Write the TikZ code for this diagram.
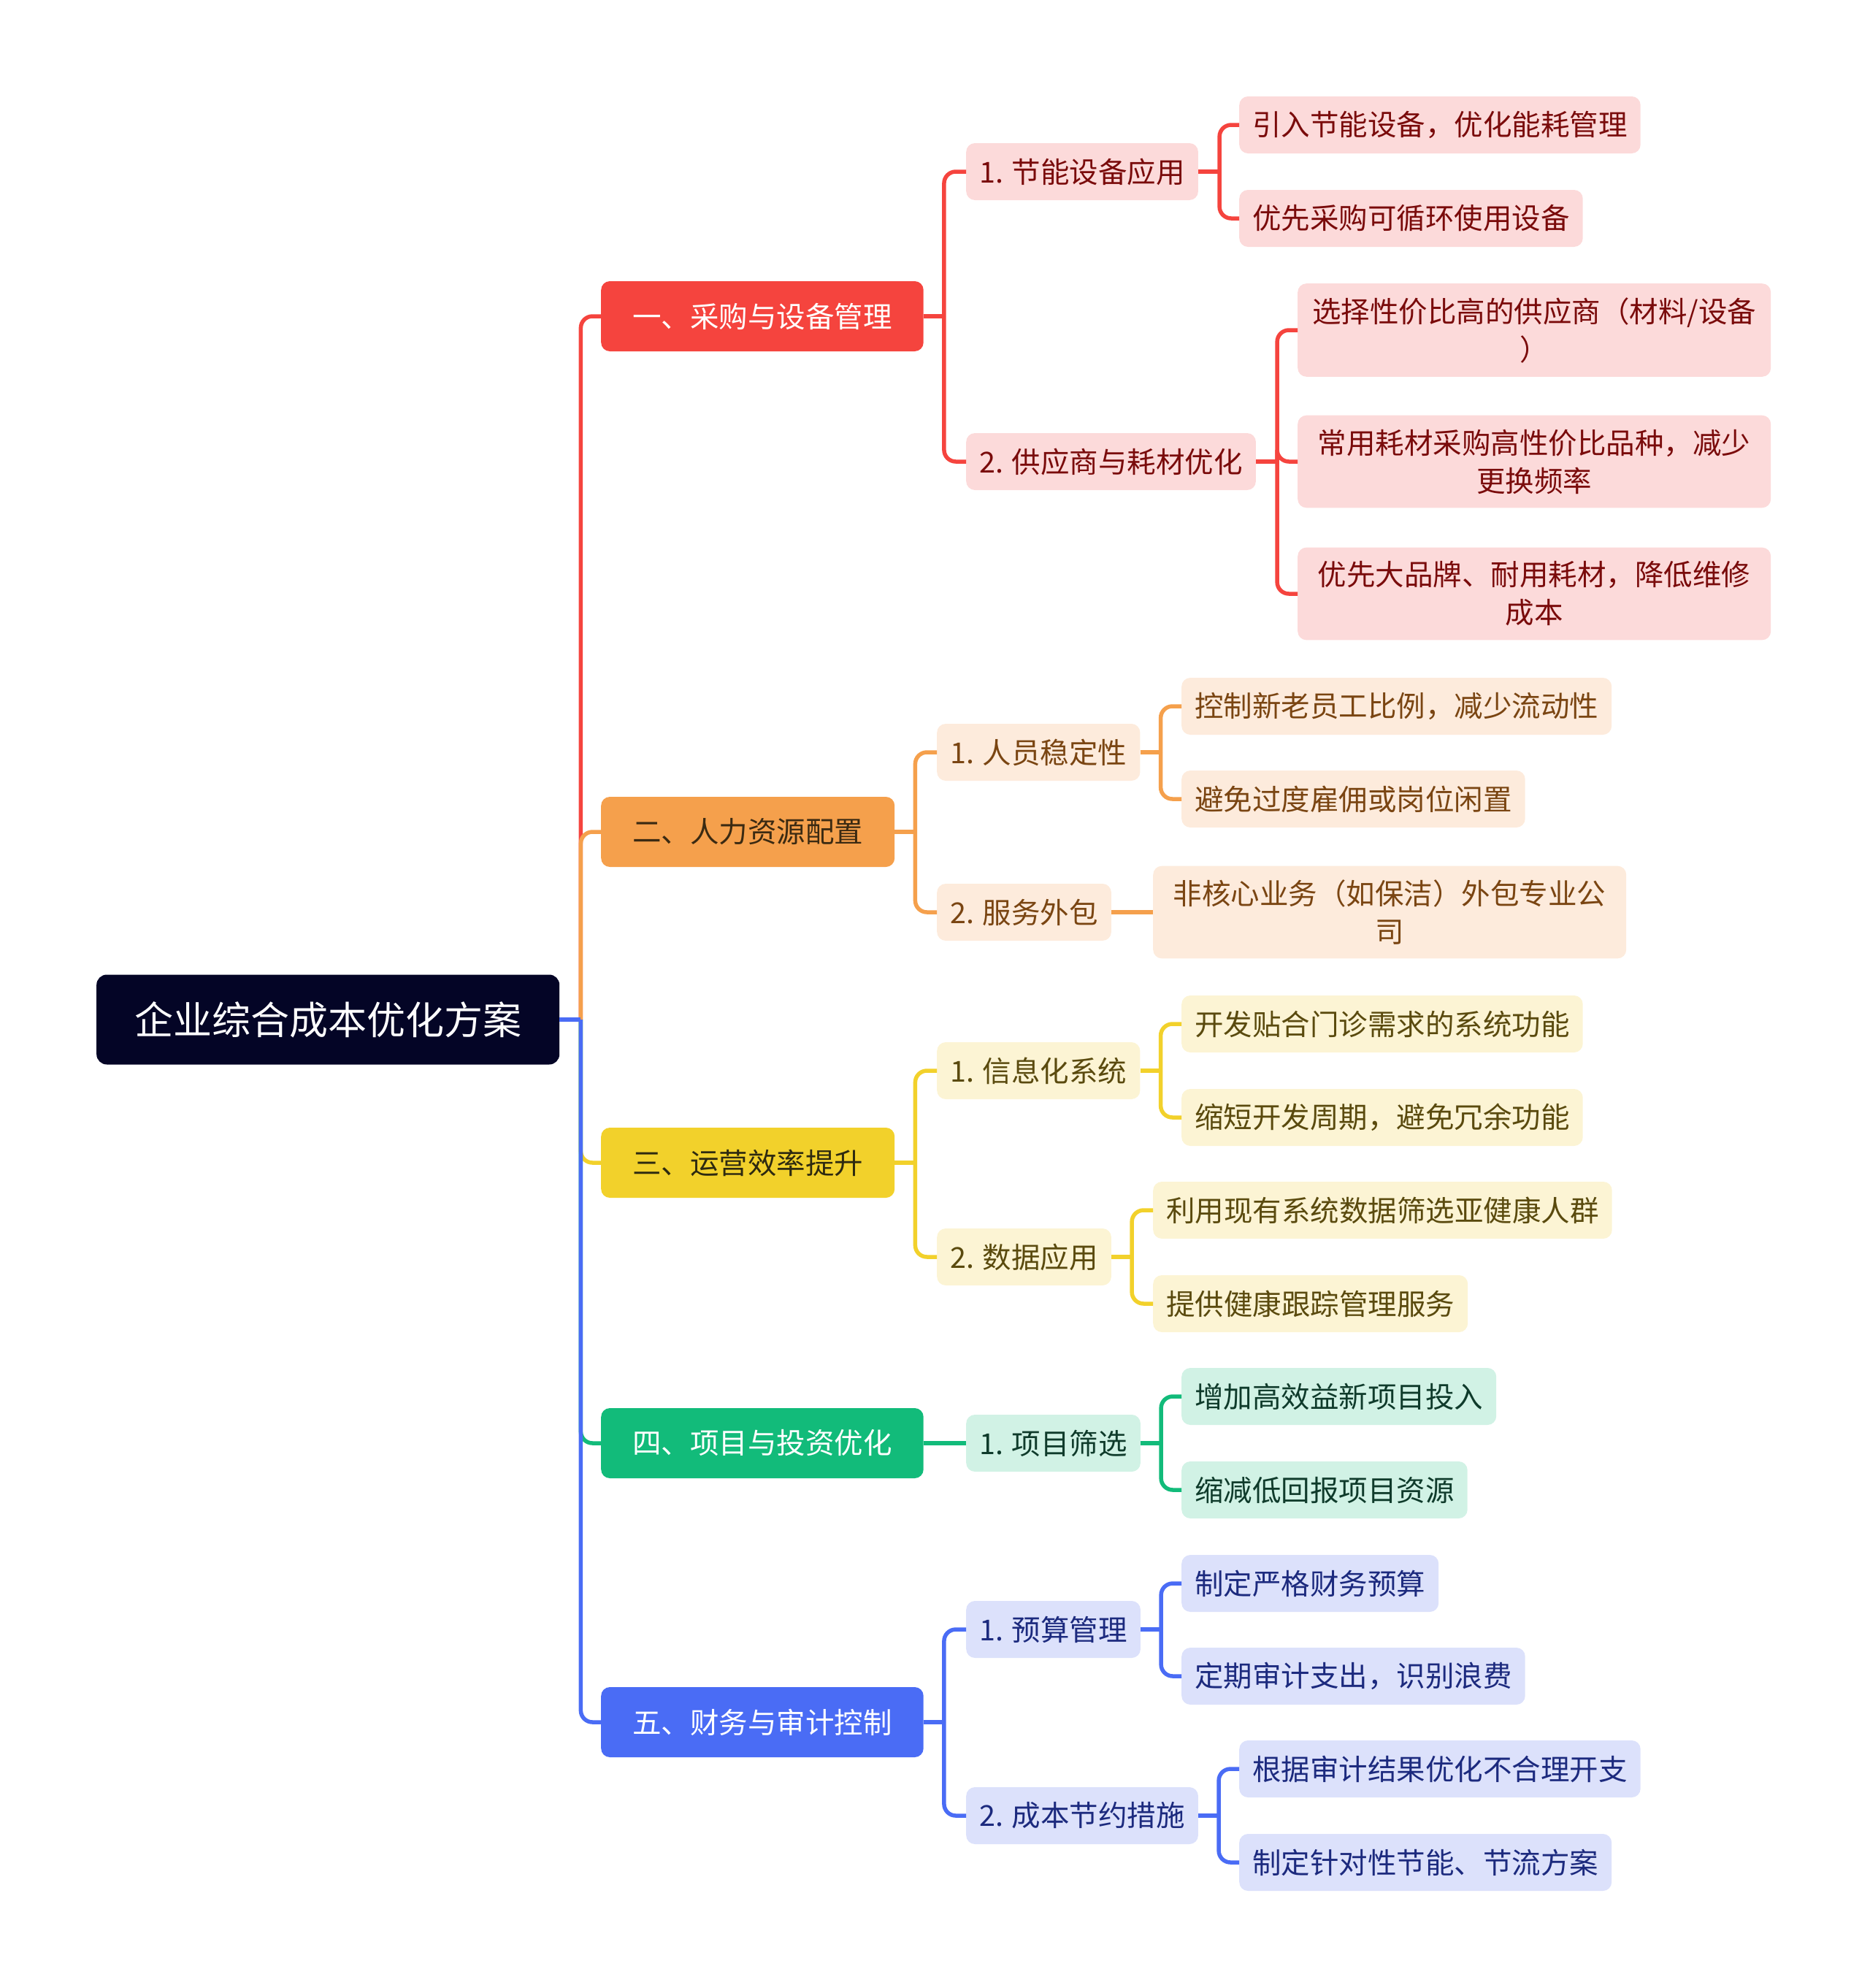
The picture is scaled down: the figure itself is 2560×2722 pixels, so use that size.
\documentclass[tikz,border=0pt]{standalone}
\usepackage{fontspec}
\setmainfont{Noto Sans CJK SC}
\usepackage{tikz}
\definecolor{rootbg}{HTML}{040526}
\definecolor{redA}{HTML}{F5443E}
\definecolor{redB}{HTML}{FCDADA}
\definecolor{redT}{HTML}{7A0B0B}
\definecolor{orgA}{HTML}{F5A04C}
\definecolor{orgB}{HTML}{FDEBDC}
\definecolor{orgT}{HTML}{7A4512}
\definecolor{orgH}{HTML}{3B2A12}
\definecolor{yelA}{HTML}{F2D12B}
\definecolor{yelB}{HTML}{FCF4D4}
\definecolor{yelT}{HTML}{5A4A0E}
\definecolor{yelH}{HTML}{2E2A10}
\definecolor{grnA}{HTML}{12BB7A}
\definecolor{grnB}{HTML}{D1F2E5}
\definecolor{grnT}{HTML}{0F3B2B}
\definecolor{bluA}{HTML}{4A6CF5}
\definecolor{bluB}{HTML}{DCE1FB}
\definecolor{bluT}{HTML}{1C2A7E}
\tikzstyle{rootbox} = [fill=rootbg, text=white, rounded corners=14pt, font=\fontsize{53}{64}\selectfont, inner xsep=52pt, inner ysep=0pt, minimum height=123pt, anchor=west]
\tikzstyle{mainbox} = [rounded corners=12pt, font=\fontsize{39.5}{52}\selectfont, inner xsep=43pt, inner ysep=0pt, minimum height=96pt, anchor=west]
\tikzstyle{subbox} = [rounded corners=12pt, font=\fontsize{39.5}{52}\selectfont, inner xsep=18pt, inner ysep=19pt, minimum height=78pt, anchor=west]
\tikzstyle{widebox} = [subbox, text width=612pt, align=center]
\tikzstyle{redsub} = [fill=redB, text=redT]
\tikzstyle{orgsub} = [fill=orgB, text=orgT]
\tikzstyle{yelsub} = [fill=yelB, text=yelT]
\tikzstyle{grnsub} = [fill=grnB, text=grnT]
\tikzstyle{blusub} = [fill=bluB, text=bluT]
\tikzstyle{link} = [line width=5.5pt, rounded corners=16pt]

\begin{document}
\begin{tikzpicture}[x=1pt,y=-1pt]
  \useasboundingbox (0,0) rectangle (2560,2722);
  \node[rootbox] (root) at (132,1396) {企业综合成本优化方案};

  % first level
  \node[mainbox, fill=redA, text=white] (p1) at (823,433) {一、采购与设备管理};
  \node[mainbox, fill=orgA, text=orgH] (p2) at (823,1139) {二、人力资源配置};
  \node[mainbox, fill=yelA, text=yelH] (p3) at (823,1592) {三、运营效率提升};
  \node[mainbox, fill=grnA, text=white] (p4) at (823,1976) {四、项目与投资优化};
  \node[mainbox, fill=bluA, text=white] (p5) at (823,2358) {五、财务与审计控制};

  % second level
  \node[subbox, redsub] (p1a) at (1323,235) {1. 节能设备应用};
  \node[subbox, redsub] (p1b) at (1323,632) {2. 供应商与耗材优化};
  \node[subbox, orgsub] (p2a) at (1283,1030) {1. 人员稳定性};
  \node[subbox, orgsub] (p2b) at (1283,1249) {2. 服务外包};
  \node[subbox, yelsub] (p3a) at (1283,1466) {1. 信息化系统};
  \node[subbox, yelsub] (p3b) at (1283,1721) {2. 数据应用};
  \node[subbox, grnsub] (p4a) at (1323,1976) {1. 项目筛选};
  \node[subbox, blusub] (p5a) at (1323,2231) {1. 预算管理};
  \node[subbox, blusub] (p5b) at (1323,2486) {2. 成本节约措施};

  % leaves
  \node[subbox, redsub] (p1a1) at (1697,171) {引入节能设备，优化能耗管理};
  \node[subbox, redsub] (p1a2) at (1697,299) {优先采购可循环使用设备};
  \node[widebox, redsub] (p1b1) at (1777,452) {选择性价比高的供应商（材料/设备\\）};
  \node[widebox, redsub] (p1b2) at (1777,632) {常用耗材采购高性价比品种，减少\\更换频率};
  \node[widebox, redsub] (p1b3) at (1777,813) {优先大品牌、耐用耗材，降低维修\\成本};
  \node[subbox, orgsub] (p2a1) at (1618,967) {控制新老员工比例，减少流动性};
  \node[subbox, orgsub] (p2a2) at (1618,1094) {避免过度雇佣或岗位闲置};
  \node[widebox, orgsub] (p2b1) at (1579,1249) {非核心业务（如保洁）外包专业公\\司};
  \node[subbox, yelsub] (p3a1) at (1618,1402) {开发贴合门诊需求的系统功能};
  \node[subbox, yelsub] (p3a2) at (1618,1530) {缩短开发周期，避免冗余功能};
  \node[subbox, yelsub] (p3b1) at (1579,1657) {利用现有系统数据筛选亚健康人群};
  \node[subbox, yelsub] (p3b2) at (1579,1785) {提供健康跟踪管理服务};
  \node[subbox, grnsub] (p4a1) at (1618,1912) {增加高效益新项目投入};
  \node[subbox, grnsub] (p4a2) at (1618,2040) {缩减低回报项目资源};
  \node[subbox, blusub] (p5a1) at (1618,2168) {制定严格财务预算};
  \node[subbox, blusub] (p5a2) at (1618,2295) {定期审计支出，识别浪费};
  \node[subbox, blusub] (p5b1) at (1697,2422) {根据审计结果优化不合理开支};
  \node[subbox, blusub] (p5b2) at (1697,2550) {制定针对性节能、节流方案};

  % root to first level
  \coordinate (j0) at ([xshift=29pt]root.east);
  \draw[link, redA] (j0) |- (p1.west);
  \draw[link, orgA] (j0) |- (p2.west);
  \draw[link, yelA] (j0) |- (p3.west);
  \draw[link, grnA] (j0) |- (p4.west);
  \draw[link, bluA] (j0) |- (p5.west);
  \draw[link, bluA] (root.east) -- (j0);

  % first to second level
  \coordinate (j1) at ([xshift=28pt]p1.east);
  \draw[link, redA] (p1.east) -- (j1);
  \draw[link, redA] (j1) |- (p1a.west);
  \draw[link, redA] (j1) |- (p1b.west);
  \coordinate (j2) at ([xshift=28pt]p2.east);
  \draw[link, orgA] (p2.east) -- (j2);
  \draw[link, orgA] (j2) |- (p2a.west);
  \draw[link, orgA] (j2) |- (p2b.west);
  \coordinate (j3) at ([xshift=28pt]p3.east);
  \draw[link, yelA] (p3.east) -- (j3);
  \draw[link, yelA] (j3) |- (p3a.west);
  \draw[link, yelA] (j3) |- (p3b.west);
  \draw[link, grnA] (p4.east) -- (p4a.west);
  \coordinate (j5) at ([xshift=28pt]p5.east);
  \draw[link, bluA] (p5.east) -- (j5);
  \draw[link, bluA] (j5) |- (p5a.west);
  \draw[link, bluA] (j5) |- (p5b.west);

  % second level to leaves
  \coordinate (j1a) at ([xshift=29pt]p1a.east);
  \draw[link, redA] (p1a.east) -- (j1a);
  \draw[link, redA] (j1a) |- (p1a1.west);
  \draw[link, redA] (j1a) |- (p1a2.west);
  \coordinate (j1b) at ([xshift=29pt]p1b.east);
  \draw[link, redA] (p1b.east) -- (j1b);
  \draw[link, redA] (j1b) |- (p1b1.west);
  \draw[link, redA] (j1b) |- (p1b2.west);
  \draw[link, redA] (j1b) |- (p1b3.west);
  \coordinate (j2a) at ([xshift=28pt]p2a.east);
  \draw[link, orgA] (p2a.east) -- (j2a);
  \draw[link, orgA] (j2a) |- (p2a1.west);
  \draw[link, orgA] (j2a) |- (p2a2.west);
  \draw[link, orgA] (p2b.east) -- (p2b1.west);
  \coordinate (j3a) at ([xshift=28pt]p3a.east);
  \draw[link, yelA] (p3a.east) -- (j3a);
  \draw[link, yelA] (j3a) |- (p3a1.west);
  \draw[link, yelA] (j3a) |- (p3a2.west);
  \coordinate (j3b) at ([xshift=28pt]p3b.east);
  \draw[link, yelA] (p3b.east) -- (j3b);
  \draw[link, yelA] (j3b) |- (p3b1.west);
  \draw[link, yelA] (j3b) |- (p3b2.west);
  \coordinate (j4a) at ([xshift=28pt]p4a.east);
  \draw[link, grnA] (p4a.east) -- (j4a);
  \draw[link, grnA] (j4a) |- (p4a1.west);
  \draw[link, grnA] (j4a) |- (p4a2.west);
  \coordinate (j5a) at ([xshift=28pt]p5a.east);
  \draw[link, bluA] (p5a.east) -- (j5a);
  \draw[link, bluA] (j5a) |- (p5a1.west);
  \draw[link, bluA] (j5a) |- (p5a2.west);
  \coordinate (j5b) at ([xshift=28pt]p5b.east);
  \draw[link, bluA] (p5b.east) -- (j5b);
  \draw[link, bluA] (j5b) |- (p5b1.west);
  \draw[link, bluA] (j5b) |- (p5b2.west);
\end{tikzpicture}
\end{document}
